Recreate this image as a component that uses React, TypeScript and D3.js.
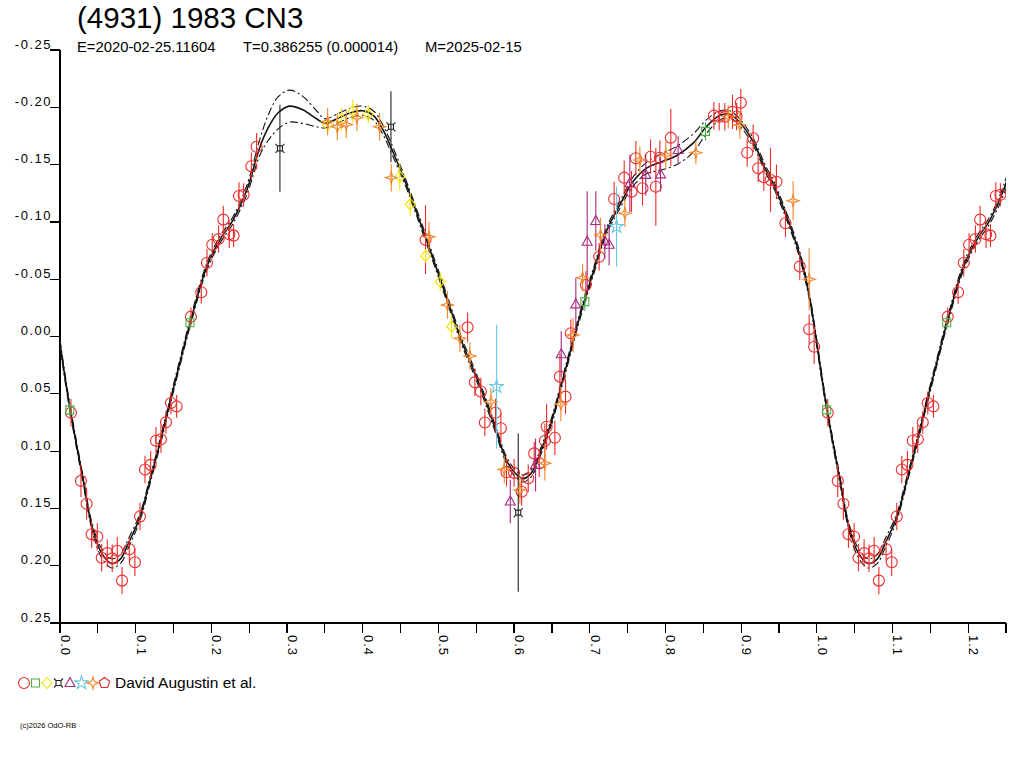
import * as d3 from "d3";
import React from "react";

const W = 1024;
const H = 768;
const FONT = "'Liberation Sans', Arial, sans-serif";

// fitted light curve (phase, magnitude, half width of the dash-dot band)
const fitPhase = [0, 0.01, 0.02, 0.03, 0.042, 0.055, 0.068, 0.08, 0.09, 0.106, 0.118, 0.132, 0.145, 0.158, 0.172, 0.194, 0.211, 0.229, 0.247, 0.264, 0.275, 0.288, 0.303, 0.32, 0.339, 0.35, 0.366, 0.383, 0.4, 0.414, 0.427, 0.44, 0.458, 0.48, 0.502, 0.517, 0.53, 0.545, 0.56, 0.575, 0.59, 0.601, 0.612, 0.623, 0.636, 0.65, 0.663, 0.676, 0.687, 0.705, 0.722, 0.74, 0.757, 0.775, 0.793, 0.815, 0.837, 0.854, 0.872, 0.885, 0.898, 0.916, 0.925, 0.933, 0.942, 0.96, 0.978, 0.991];
const fitMag = [0.006, 0.05, 0.088, 0.123, 0.165, 0.189, 0.198, 0.194, 0.181, 0.157, 0.128, 0.093, 0.058, 0.024, -0.012, -0.061, -0.084, -0.102, -0.128, -0.165, -0.182, -0.195, -0.201, -0.198, -0.19, -0.186, -0.19, -0.195, -0.197, -0.193, -0.18, -0.161, -0.132, -0.092, -0.051, -0.022, 0.003, 0.027, 0.052, 0.08, 0.108, 0.119, 0.124, 0.119, 0.099, 0.073, 0.041, 0.009, -0.018, -0.057, -0.092, -0.115, -0.135, -0.147, -0.152, -0.158, -0.169, -0.183, -0.193, -0.194, -0.187, -0.17, -0.157, -0.145, -0.134, -0.105, -0.07, -0.032];
const fitHalf = [0.003, 0.003, 0.003, 0.003, 0.003, 0.004, 0.004, 0.004, 0.004, 0.003, 0.003, 0.003, 0.003, 0.003, 0.003, 0.003, 0.003, 0.003, 0.004, 0.007, 0.011, 0.014, 0.014, 0.012, 0.007, 0.004, 0.004, 0.004, 0.004, 0.004, 0.004, 0.004, 0.003, 0.003, 0.003, 0.003, 0.003, 0.003, 0.003, 0.003, 0.003, 0.003, 0.003, 0.003, 0.003, 0.003, 0.003, 0.003, 0.003, 0.003, 0.003, 0.003, 0.004, 0.005, 0.007, 0.008, 0.008, 0.006, 0.004, 0.003, 0.003, 0.003, 0.003, 0.003, 0.003, 0.003, 0.003, 0.003];

// observations: [phase, magnitude, error]
const redCircles = [
  [0.0145, 0.0665, 0.012], [0.0277, 0.126, 0.014], [0.0352, 0.146, 0.014], [0.0418, 0.1726, 0.012],
  [0.0493, 0.1747, 0.012], [0.0551, 0.193, 0.012], [0.0625, 0.189, 0.012], [0.069, 0.1936, 0.012],
  [0.0757, 0.187, 0.012], [0.082, 0.213, 0.012], [0.0916, 0.1857, 0.01], [0.099, 0.197, 0.012],
  [0.1057, 0.157, 0.012], [0.1123, 0.116, 0.012], [0.1198, 0.112, 0.012], [0.1268, 0.091, 0.012],
  [0.1334, 0.0897, 0.012], [0.14, 0.0749, 0.01], [0.1466, 0.058, 0.01], [0.1541, 0.061, 0.01],
  [0.173, -0.0173, 0.008], [0.1867, -0.0386, 0.01], [0.1942, -0.0644, 0.012], [0.2012, -0.08, 0.01],
  [0.2096, -0.085, 0.012], [0.2158, -0.102, 0.012], [0.2237, -0.0892, 0.012], [0.2294, -0.088, 0.01],
  [0.2365, -0.1226, 0.012], [0.2426, -0.1237, 0.01], [0.2528, -0.1485, 0.012], [0.2598, -0.1656, 0.012],
  [0.483, -0.0845, 0.03], [0.5386, -0.008, 0.013], [0.5482, 0.04, 0.012], [0.5561, 0.048, 0.012],
  [0.5755, 0.0665, 0.012], [0.5614, 0.075, 0.012], [0.5826, 0.08, 0.013], [0.59, 0.1185, 0.012],
  [0.6, 0.119, 0.012], [0.61, 0.1355, 0.012], [0.6187, 0.1237, 0.012], [0.6266, 0.102, 0.01],
  [0.6332, 0.1107, 0.012], [0.6407, 0.091, 0.015], [0.643, 0.0787, 0.02], [0.6539, 0.0883, 0.015],
  [0.668, 0.0525, 0.015], [0.6605, 0.035, 0.02], [0.675, -0.0028, 0.012], [0.6949, -0.045, 0.012],
  [0.7124, -0.0696, 0.012], [0.7322, -0.12, 0.015], [0.7455, -0.1386, 0.015], [0.7552, -0.1264, 0.018],
  [0.7609, -0.1555, 0.015], [0.7697, -0.1293, 0.015], [0.7803, -0.1569, 0.015], [0.7873, -0.1307, 0.034],
  [0.7926, -0.156, 0.015], [0.8071, -0.1735, 0.025], [0.864, -0.1927, 0.012], [0.871, -0.1918, 0.012],
  [0.8785, -0.1918, 0.012], [0.8886, -0.196, 0.015], [0.894, -0.192, 0.012], [0.8996, -0.204, 0.012],
  [0.9159, -0.173, 0.012], [0.908, -0.1604, 0.012], [0.9225, -0.1468, 0.012], [0.93, -0.139, 0.012],
  [0.9388, -0.1366, 0.028], [0.9467, -0.135, 0.015], [0.9586, -0.0988, 0.012], [0.9775, -0.061, 0.012],
  [0.9899, -0.0063, 0.013], [0.9965, 0.009, 0.015],
];
const greenSquares = [[0.013, 0.064, 0.006], [0.1717, -0.012, 0.006], [0.6935, -0.0304, 0.008], [0.853, -0.179, 0.008]];
const yellowDiamonds = [
  [0.3536, -0.1846, 0.006], [0.372, -0.1895, 0.01], [0.387, -0.1968, 0.01], [0.4073, -0.194, 0.008],
  [0.449, -0.1395, 0.012], [0.4628, -0.1153, 0.01], [0.483, -0.0703, 0.006], [0.5024, -0.0478, 0.008],
  [0.5174, -0.0086, 0.01],
];
const blackCurrency = [[0.2906, -0.1642, 0.038], [0.4373, -0.183, 0.031], [0.6055, 0.1537, 0.069]];
const magentaTriangles = [
  [0.595, 0.144, 0.019], [0.6284, 0.112, 0.023], [0.6623, 0.0155, 0.02], [0.6816, -0.028, 0.023],
  [0.6966, -0.0827, 0.044], [0.708, -0.1008, 0.026], [0.72, -0.083, 0.015], [0.7256, -0.08, 0.018],
  [0.753, -0.1337, 0.025], [0.774, -0.141, 0.018], [0.7935, -0.1415, 0.015], [0.8168, -0.1627, 0.012],
];
const cyanStars = [[0.5769, 0.0438, 0.054], [0.7354, -0.0958, 0.035]];
const orangeStars = [
  [0.3536, -0.1874, 0.012], [0.3664, -0.183, 0.012], [0.3783, -0.185, 0.012], [0.3924, -0.191, 0.012],
  [0.4223, -0.183, 0.012], [0.4377, -0.1386, 0.012], [0.4875, -0.087, 0.013], [0.512, -0.0275, 0.012],
  [0.5284, 0.0016, 0.012], [0.5416, 0.017, 0.012], [0.5694, 0.057, 0.012], [0.587, 0.116, 0.012],
  [0.6077, 0.134, 0.012], [0.6407, 0.1107, 0.015], [0.6618, 0.059, 0.015], [0.678, -0.0013, 0.015],
  [0.6905, -0.0513, 0.012], [0.7142, -0.0886, 0.015], [0.7464, -0.1075, 0.012], [0.7662, -0.154, 0.012],
  [0.8005, -0.1584, 0.012], [0.8402, -0.1604, 0.01], [0.883, -0.1918, 0.01], [0.8983, -0.1846, 0.012],
  [0.9687, -0.1185, 0.017], [0.9899, -0.05, 0.027],
];

const yTicks = [-0.25, -0.2, -0.15, -0.1, -0.05, 0, 0.05, 0.1, 0.15, 0.2, 0.25];
const yTickLabels = ["-0.25", "-0.20", "-0.15", "-0.10", "-0.05", "0.00", "0.05", "0.10", "0.15", "0.20", "0.25"];
const xMajor = [0, 0.1, 0.2, 0.3, 0.4, 0.5, 0.6, 0.7, 0.8, 0.9, 1.0, 1.1, 1.2];
const xMajorLabels = ["0.0", "0.1", "0.2", "0.3", "0.4", "0.5", "0.6", "0.7", "0.8", "0.9", "1.0", "1.1", "1.2"];
const xMinor = [0.05, 0.15, 0.25, 0.35, 0.45, 0.55, 0.65, 0.75, 0.85, 0.95, 1.05, 1.15, 1.25];

const RED = "#ee2a2a";
const GREEN = "#4cb248";
const YELLOW = "#f2e200";
const BLACK = "#222";
const MAGENTA = "#a8287e";
const CYAN = "#64c8e4";
const ORANGE = "#f2862c";

const starPath = d3.symbol().type(d3.symbolStar).size(55)();

const shapes = {
  circle: "M5.5,0A5.5,5.5,0,1,1,-5.5,0A5.5,5.5,0,1,1,5.5,0Z",
  square: "M-4,-4h8v8h-8Z",
  diamond: "M0,-5.5L5,0L0,5.5L-5,0Z",
  currency: "M-2.5,-2.5h5v5h-5ZM-2.5,-2.5l-2,-2M2.5,-2.5l2,-2M2.5,2.5l2,2M-2.5,2.5l-2,2",
  triangle: "M0,-5.5L5,3.5L-5,3.5Z",
  star: starPath,
  star4: "M0,-6L1.4,-1.4L6,0L1.4,1.4L0,6L-1.4,1.4L-6,0L-1.4,-1.4Z",
  pentagon: "M0,-5.5L5.2,-1.7L3.2,4.5L-3.2,4.5L-5.2,-1.7Z",
};

const series = [
  { shape: "circle", color: RED, pts: redCircles },
  { shape: "square", color: GREEN, pts: greenSquares },
  { shape: "diamond", color: YELLOW, pts: yellowDiamonds },
  { shape: "currency", color: BLACK, pts: blackCurrency },
  { shape: "triangle", color: MAGENTA, pts: magentaTriangles },
  { shape: "star", color: CYAN, pts: cyanStars },
  { shape: "star4", color: ORANGE, pts: orangeStars },
];
const legendShapes = [
  ["circle", RED], ["square", GREEN], ["diamond", YELLOW], ["currency", BLACK],
  ["triangle", MAGENTA], ["star", CYAN], ["star4", ORANGE], ["pentagon", RED],
];

const x = d3.scaleLinear().domain([0, 1.25]).range([60, 1006]);
const y = d3.scaleLinear().domain([-0.25, 0.25]).range([50, 623]);

// phases below 0.25 are shown a second time after 1.0
const wrap = (pts, limit) => pts.concat(pts.filter((d) => d[0] + 1 <= limit).map((d) => [d[0] + 1, ...d.slice(1)]));

const fitRows = wrap(fitPhase.map((p, i) => [p, fitMag[i], fitHalf[i]]), 1.27);
const line = d3.line().x((d) => x(d[0])).y((d) => y(d[1])).curve(d3.curveCatmullRom.alpha(0.5));

export default function App() {
  return (
    <svg width={W} height={H} style={{ position: "absolute", left: 0, top: 0, background: "#fff" }} fontFamily={FONT}>
      <defs>
        <clipPath id="plot">
          <rect x={60} y={30} width={946} height={600} />
        </clipPath>
      </defs>

      <text x={77} y={28} fontSize={29.5}>(4931) 1983 CN3</text>
      <text x={77} y={52} fontSize={14.8}>E=2020-02-25.11604</text>
      <text x={243} y={52} fontSize={14.8}>T=0.386255 (0.000014)</text>
      <text x={425} y={52} fontSize={14.8}>M=2025-02-15</text>

      {/* axes */}
      <g stroke="#000" strokeWidth={1.2} shapeRendering="crispEdges">
        <line x1={60} x2={60} y1={50} y2={623} />
        <line x1={50} x2={1006} y1={623} y2={623} />
        {yTicks.map((t) => <line key={t} x1={50} x2={60} y1={y(t)} y2={y(t)} />)}
        {xMajor.concat(xMinor).map((t) => <line key={t} x1={x(t)} x2={x(t)} y1={623} y2={633} />)}
      </g>
      {yTicks.map((t, i) => (
        <text key={t} x={52} y={y(t) - 1.5} fontSize={13} letterSpacing={1.5} textAnchor="end">{yTickLabels[i]}</text>
      ))}
      {xMajor.map((t, i) => (
        <text key={t} transform={`translate(${x(t) + 1},635) rotate(90)`} fontSize={13} letterSpacing={1}>{xMajorLabels[i]}</text>
      ))}

      <g clipPath="url(#plot)" fill="none">
        <path d={line(fitRows.map((d) => [d[0], d[1] - d[2]]))} stroke="#111" strokeWidth={1.1} strokeDasharray="8,3,2,3" />
        <path d={line(fitRows.map((d) => [d[0], d[1] + d[2]]))} stroke="#111" strokeWidth={1.1} strokeDasharray="8,3,2,3" />
        <path d={line(fitRows)} stroke="#111" strokeWidth={1.6} />

        {series.map((s) =>
          wrap(s.pts, 1.25).map((d, i) => (
            <g key={s.shape + i} transform={`translate(${x(d[0])},${y(d[1])})`} stroke={s.color} strokeWidth={1.1}>
              <line x1={0} x2={0} y1={y(d[1] - d[2]) - y(d[1])} y2={y(d[1] + d[2]) - y(d[1])} />
              <path d={shapes[s.shape]} />
            </g>
          ))
        )}
      </g>

      {/* legend */}
      <g fill="none" strokeWidth={1.1}>
        {legendShapes.map(([sh, c], i) => (
          <path key={sh} d={shapes[sh]} stroke={c} transform={`translate(${24 + i * 11.5},683)`} />
        ))}
      </g>
      <text x={115} y={688} fontSize={15.5}>David Augustin et al.</text>
      <text x={20} y={728} fontSize={7.5}>(c)2026 OdO-RB</text>
    </svg>
  );
}
